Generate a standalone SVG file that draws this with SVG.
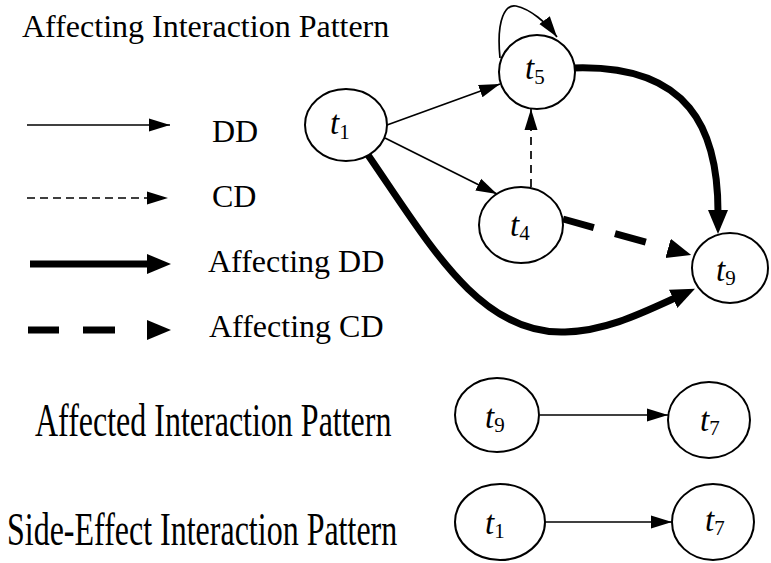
<svg xmlns="http://www.w3.org/2000/svg" width="771" height="563" viewBox="0 0 771 563">
<style>
text{font-family:"Liberation Serif","Times New Roman",serif;fill:#000}
.lbl{font-size:32px}
.t{font-size:33px;font-style:italic}
.s{font-size:21px;font-style:normal}
.node{fill:#fff;stroke:#000;stroke-width:2}
.thin{fill:none;stroke:#000;stroke-width:1.7}
.thick{fill:none;stroke:#000;stroke-width:7}
</style>
<defs>
<marker id="ah" markerUnits="userSpaceOnUse" markerWidth="22" markerHeight="14" refX="21" refY="7" orient="auto"><path d="M0,0.5 L21,7 L0,13.5 z" fill="#000"/></marker>
<marker id="ahb" markerUnits="userSpaceOnUse" markerWidth="24" markerHeight="22" refX="2" refY="11" orient="auto"><path d="M0,1 L24,11 L0,21 z" fill="#000"/></marker>
</defs>
<text class="lbl" x="22" y="37">Affecting Interaction Pattern</text>
<g id="legend">
<path class="thin" d="M27,125 L170,125" marker-end="url(#ah)"/>
<text class="lbl" x="212" y="142">DD</text>
<path class="thin" d="M27,198 L168,198" stroke-dasharray="8 5" marker-end="url(#ah)"/>
<text class="lbl" x="212" y="207">CD</text>
<path class="thick" d="M30,264 L149,264" stroke-width="8" marker-end="url(#ahb)"/>
<text class="lbl" x="208" y="272">Affecting DD</text>
<path class="thick" d="M28,330 L149,330" stroke-width="8" stroke-dasharray="31 24 32 40" marker-end="url(#ahb)"/>
<text class="lbl" x="209" y="337">Affecting CD</text>
</g>
<g id="connectors">
<path class="thin" d="M387,125 L500,84" marker-end="url(#ah)"/>
<path class="thin" d="M385,138 L497,194" marker-end="url(#ah)"/>
<path class="thin" d="M531,187 L531,109" stroke-dasharray="8 6" marker-end="url(#ah)"/>
<path class="thin" d="M500,58 C496,18 506,4 516,6 C530,9 546,22 557,37" stroke-width="2" marker-end="url(#ah)"/>
<path class="thick" d="M573,68 C690,64 718,130 718,212" marker-end="url(#ahb)"/>
<path class="thick" d="M563,219 L670,249" stroke-dasharray="32 22 32 30" marker-end="url(#ahb)"/>
<path class="thick" d="M368,155 C430,245 480,335 565,332 C605,331 640,314 675,298" marker-end="url(#ahb)"/>
<path class="thin" d="M540,415 L668,415" stroke-width="1.3" marker-end="url(#ah)"/>
<path class="thin" d="M545,522 L672,522" stroke-width="1.3" marker-end="url(#ah)"/>
</g>
<g id="t1"><ellipse class="node" cx="346" cy="125" rx="41" ry="36"/><text class="t" x="330" y="134">t<tspan class="s" dy="5">1</tspan></text></g>
<g id="t5"><ellipse class="node" cx="537" cy="72" rx="38" ry="37"/><text class="t" x="525" y="79">t<tspan class="s" dy="5">5</tspan></text></g>
<g id="t4"><ellipse class="node" cx="521" cy="225" rx="42" ry="38"/><text class="t" x="510" y="236">t<tspan class="s" dy="4">4</tspan></text></g>
<g id="t9"><ellipse class="node" cx="730" cy="268" rx="38" ry="35"/><text class="t" x="716" y="281">t<tspan class="s" dy="4">9</tspan></text></g>
<text class="lbl" transform="translate(35,436) scale(1,1.45)">Affected Interaction Pattern</text>
<g id="t9b"><ellipse class="node" cx="497" cy="415" rx="42" ry="37"/><text class="t" x="485" y="428">t<tspan class="s" dy="4">9</tspan></text></g>
<g id="t7a"><ellipse class="node" cx="709" cy="420" rx="41" ry="38"/><text class="t" x="700" y="431">t<tspan class="s" dy="4">7</tspan></text></g>
<text class="lbl" transform="translate(7,545) scale(1,1.45)">Side-Effect Interaction Pattern</text>
<g id="t1b"><ellipse class="node" cx="500" cy="522" rx="45" ry="38"/><text class="t" x="485" y="534">t<tspan class="s" dy="4">1</tspan></text></g>
<g id="t7b"><ellipse class="node" cx="713" cy="522" rx="41" ry="38"/><text class="t" x="705" y="531">t<tspan class="s" dy="4">7</tspan></text></g>
</svg>
